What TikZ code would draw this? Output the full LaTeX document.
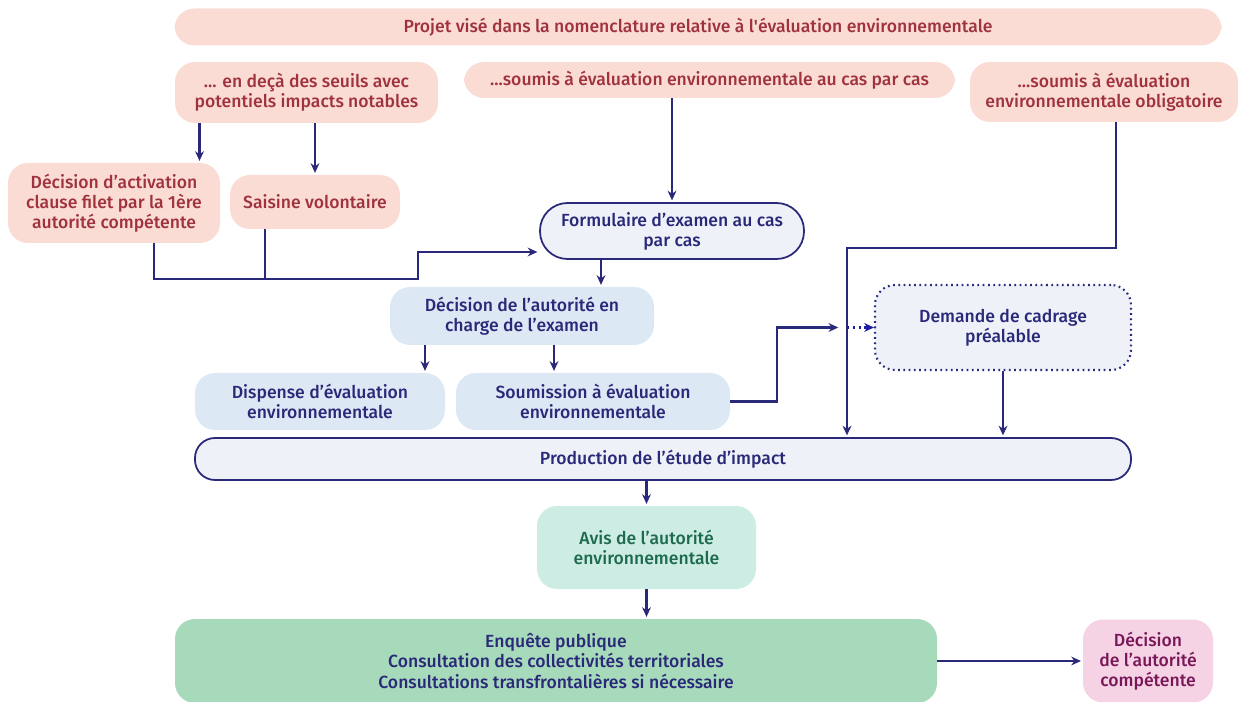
\documentclass[tikz,border=0pt]{standalone}
\usepackage{fontspec}
\setmainfont{Fira Sans}[BoldFont={Fira Sans Medium}]
\usepackage{xcolor}
\usepackage{tikz}
\usetikzlibrary{arrows.meta,positioning,calc}

\definecolor{rosefond}{HTML}{FADCD5}
\definecolor{rosetexte}{HTML}{A0323D}
\definecolor{marine}{HTML}{2A2878}
\definecolor{grisbleu}{HTML}{EEF2F8}
\definecolor{bleuclair}{HTML}{DCE8F4}
\definecolor{vertclair}{HTML}{CDEDE4}
\definecolor{vertmoyen}{HTML}{A7DABA}
\definecolor{verttexte}{HTML}{1D6A4F}
\definecolor{mauvefond}{HTML}{F5D3E5}
\definecolor{mauvetexte}{HTML}{7A1759}

\begin{document}
\begin{tikzpicture}[
    base/.style={rounded corners=0.4cm, align=center, inner sep=2pt,
        font=\fontsize{10}{11.4}\selectfont\bfseries},
    projet/.style={base, fill=rosefond, text=rosetexte},
    etape/.style={base, fill=bleuclair, text=marine},
    cadre/.style={base, draw=marine, line width=1pt, fill=grisbleu, text=marine},
    arr/.style={-{Stealth[length=5.5pt,width=5pt]}, line width=1.3pt, draw=marine, shorten >=1pt},
    lien/.style={line width=1.3pt, draw=marine},
    pointille/.style={-{Stealth[length=5.5pt,width=5pt]}, line width=1.3pt, draw=marine!70!blue, dotted},
]
\useasboundingbox (0,0) rectangle (24.8,-14.04);

% Nomenclature
\node[projet, minimum width=20.94cm, minimum height=0.74cm] (projet) at (13.96,-0.54)
    {Projet visé dans la nomenclature relative à l\textquotesingle évaluation environnementale};
\node[projet, minimum width=5.26cm, minimum height=1.22cm] (seuils) at (6.13,-1.85)
    {... en deçà des seuils avec\\potentiels impacts notables};
\node[projet, minimum width=9.82cm, minimum height=0.72cm] (casparcas) at (14.19,-1.60)
    {...soumis à évaluation environnementale au cas par cas};
\node[projet, minimum width=5.36cm, minimum height=1.2cm] (obligatoire) at (22.08,-1.84)
    {...soumis à évaluation\\environnementale obligatoire};
\node[projet, minimum width=4.24cm, minimum height=1.6cm] (activation) at (2.28,-4.06)
    {Décision d’activation\\clause filet par la 1ère\\autorité compétente};
\node[projet, minimum width=3.4cm, minimum height=1.08cm] (saisine) at (6.3,-4.04)
    {Saisine volontaire};

% Examen au cas par cas
\node[cadre, rounded corners=0.55cm, minimum width=5.28cm, minimum height=1.12cm] (formulaire) at (13.44,-4.62)
    {Formulaire d’examen au cas\\par cas};
\node[etape, minimum width=5.28cm, minimum height=1.16cm] (examen) at (10.44,-6.32)
    {Décision de l’autorité en\\charge de l’examen};
\node[etape, minimum width=5.0cm, minimum height=1.14cm] (dispense) at (6.4,-8.03)
    {Dispense d’évaluation\\environnementale};
\node[etape, minimum width=5.48cm, minimum height=1.14cm] (soumission) at (11.86,-8.03)
    {Soumission à évaluation\\environnementale};
\node[cadre, dotted, line width=1.2pt, minimum width=5.12cm, minimum height=1.7cm] (cadrage) at (20.06,-6.55)
    {Demande de cadrage\\préalable};

% Etude d'impact et suites
\node[cadre, minimum width=18.72cm, minimum height=0.84cm] (production) at (13.26,-9.18)
    {Production de l’étude d’impact};
\node[base, fill=vertclair, text=verttexte, minimum width=4.38cm, minimum height=1.66cm] (avis) at (12.93,-10.95)
    {Avis de l’autorité\\environnementale};
\node[base, fill=vertmoyen, text=marine, minimum width=15.24cm, minimum height=1.68cm] (enquete) at (11.12,-13.22)
    {Enquête publique\\Consultation des collectivités territoriales\\Consultations transfrontalières si nécessaire};
\node[base, fill=mauvefond, text=mauvetexte, minimum width=2.6cm, minimum height=1.66cm] (decision) at (22.96,-13.22)
    {Décision\\de l’autorité\\compétente};

% Points de passage
\coordinate (jonction) at (8.36,-5.58);
\coordinate (coude) at (16.94,-4.96);
\coordinate (croisement) at (16.94,-6.55);

% Flèches
\draw[arr] ([xshift=-2.14cm]seuils.south) -- ([xshift=-2.14cm]seuils.south |- activation.north);
\draw[arr] (saisine.north |- seuils.south) -- (saisine.north);
\draw[arr] (formulaire.north |- casparcas.south) -- (formulaire.north);
\draw[lien] ([xshift=-1cm]saisine.south) -- ([xshift=-1cm]saisine.south |- jonction);
\draw[arr] ([xshift=0.8cm]activation.south) |- (jonction) |- ([yshift=-0.42cm]formulaire.west);
\draw[arr] ([xshift=-1.42cm]formulaire.south) -- ([xshift=-1.42cm]formulaire.south |- examen.north);
\draw[arr] ([xshift=2.1cm]dispense.north |- examen.south) -- ([xshift=2.1cm]dispense.north);
\draw[arr] ([xshift=-0.78cm]soumission.north |- examen.south) -- ([xshift=-0.78cm]soumission.north);
\draw[arr] ([xshift=0.24cm]obligatoire.south) |- (coude) -- (coude |- production.north);
\draw[arr] (soumission.east) -| ([xshift=-1.4cm]croisement) -- ([xshift=-0.14cm]croisement);
\draw[pointille] (croisement) -- (cadrage.west);
\draw[arr] (cadrage.south) -- (cadrage.south |- production.north);
\draw[arr] (avis.north |- production.south) -- (avis.north);
\draw[arr] (avis.south) -- (avis.south |- enquete.north);
\draw[arr] (enquete.east) -- (decision.west);

\end{tikzpicture}
\end{document}
